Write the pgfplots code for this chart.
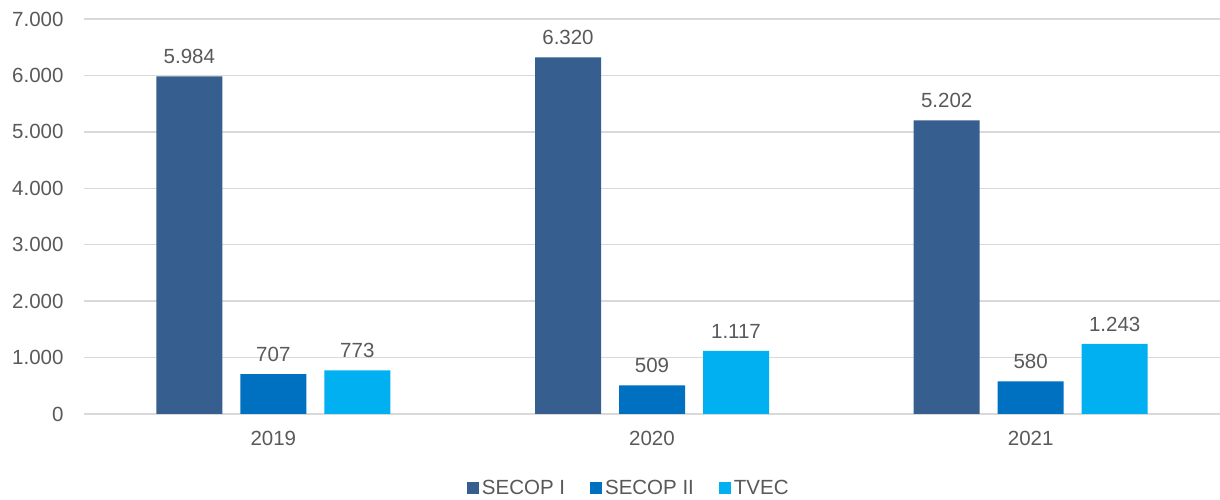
\documentclass[border=0pt]{standalone}
\usepackage{pgfplots}
\pgfplotsset{compat=1.18}
\usepackage{fontspec}
\setmainfont{Liberation Sans}
\definecolor{c1}{HTML}{365F8F}
\definecolor{c2}{HTML}{0070C0}
\definecolor{c3}{HTML}{00B0F0}
\definecolor{txt}{HTML}{595959}
\definecolor{grd}{HTML}{D9D9D9}
\begin{document}
\begin{tikzpicture}[x=1bp,y=1bp]
\useasboundingbox (0,0) rectangle (1220,500);
\begin{axis}[
  at={(84bp,86bp)}, anchor=south west,
  scale only axis, width=1136bp, height=395bp,
  ybar=18bp, bar width=66bp,
  xmin=-0.5, xmax=2.5, ymin=0, ymax=7000,
  xtick={0,1,2}, xticklabels={2019,2020,2021},
  ytick={0,1000,...,7000},
  /pgf/number format/.cd, 1000 sep={.}, assume math mode=true, /pgfplots/.cd,
  scaled y ticks=false,
  ymajorgrids, grid style={grd, line width=1.5bp},
  axis x line*=bottom, axis y line*=left,
  y axis line style={draw=none},
  x axis line style={grd, line width=1.5bp, -},
  major tick length=0pt,
  tick label style={font=\fontsize{20.5bp}{24bp}\selectfont, text=txt},
  xticklabel style={yshift=-14bp},
  yticklabel style={xshift=-17bp},
  nodes near coords,
  every node near coord/.append style={font=\fontsize{20.5bp}{24bp}\selectfont, text=txt, yshift=9bp},
  legend style={at={(0.48,-0.187)}, anchor=center, draw=none, legend columns=-1,
    font=\fontsize{20.5bp}{24bp}\selectfont, text=txt,
    /tikz/every even column/.append style={column sep=22bp},
    /tikz/every odd column/.append style={column sep=0bp},
    nodes={inner xsep=3bp}},
  legend image code/.code={\fill[#1] (0bp,-6bp) rectangle (12bp,6bp);},
]
\addplot[fill=c1, draw=none] coordinates {(0,5984) (1,6320) (2,5202)};
\addplot[fill=c2, draw=none] coordinates {(0,707) (1,509) (2,580)};
\addplot[fill=c3, draw=none] coordinates {(0,773) (1,1117) (2,1243)};
\legend{SECOP I, SECOP II, TVEC}
\end{axis}
\end{tikzpicture}
\end{document}
